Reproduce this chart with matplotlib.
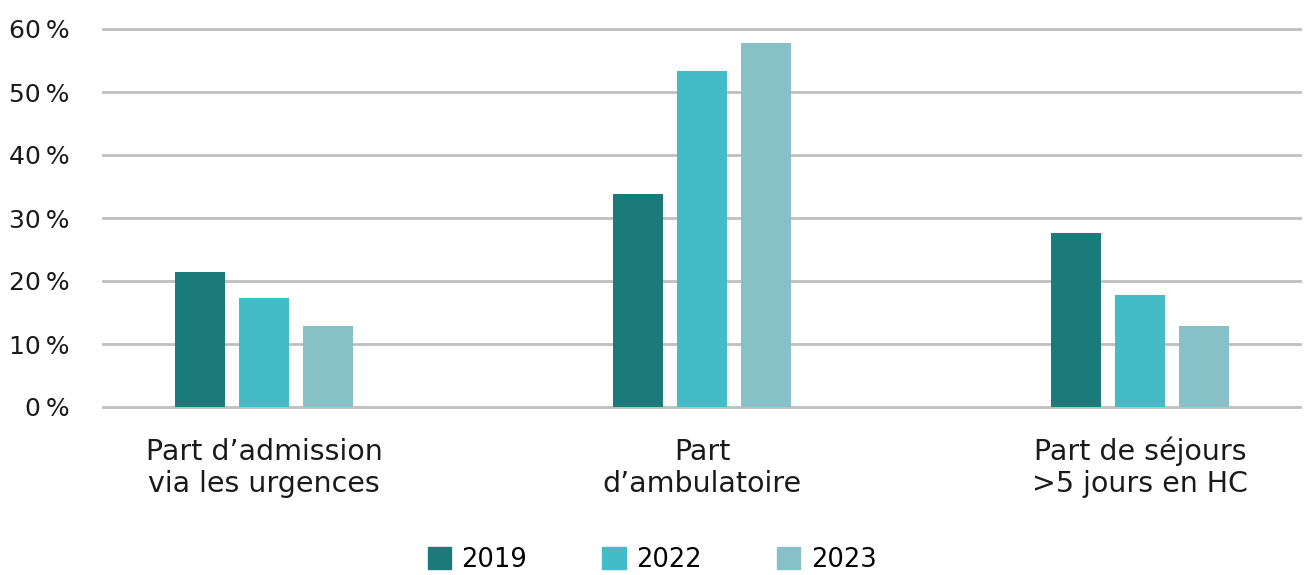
import matplotlib
matplotlib.use("Agg")
import matplotlib.pyplot as plt
import matplotlib.transforms as mtransforms
import numpy as np
from matplotlib.patches import Patch

categories = ["Part d\u2019admission\nvia les urgences", "Part\nd\u2019ambulatoire", "Part de séjours\n>5 jours en HC"]
series_names = ["2019", "2022", "2023"]
v2019 = [21.4, 33.8, 27.6]
v2022 = [17.3, 53.3, 17.8]
v2023 = [12.9, 57.8, 12.9]
values = [v2019, v2022, v2023]
colors = ["#1b7a7a", "#43bcc8", "#88c0c8"]
yticks = [0, 10, 20, 30, 40, 50, 60]

plt.rcParams['font.family'] = ['DejaVu Sans']

fig = plt.figure(figsize=(13.04, 5.75), dpi=100)
ax = fig.add_axes([103/1304, 1-407/575, (1300-103)/1304, (407-29)/575])

x = np.arange(len(categories))
w = 50/438
off = 64/438
for i, (vals, c) in enumerate(zip(values, colors)):
    ax.bar(x + (i-1)*off, vals, width=w, color=c, zorder=3)

ax.set_ylim(0, 60)
ax.set_xlim(-161/438, 2 + 160/438)
ax.set_yticks(yticks)
ax.set_yticklabels([f"{t}\u2009%" for t in yticks], fontsize=18, color="#1a1a1a")
ax.yaxis.grid(True, color="#bfbfbf", linewidth=2, zorder=0)
for gl in ax.get_ygridlines():
    gl.set_clip_on(False)
ax.tick_params(axis='y', length=0, pad=24)
ax.set_xticks(x)
ax.set_xticklabels([])
ax.tick_params(axis='x', length=0)
trans = mtransforms.blended_transform_factory(ax.transData, ax.transAxes)
for xi, lab in zip(x, categories):
    ax.text(xi, (407-492)/378, lab, transform=trans, ha='center', va='baseline',
            fontsize=20.5, color="#1a1a1a", linespacing=1.17, multialignment='center')
for s in ax.spines.values():
    s.set_visible(False)

handles = [Patch(color=c, label=n) for n, c in zip(series_names, colors)]
fig.legend(handles=handles, loc='center', bbox_to_anchor=(652/1304, 1-560/575), ncol=3,
           frameon=False, fontsize=18.5, handlelength=0.9, handleheight=0.9,
           handletextpad=0.4, columnspacing=2.95)

fig.savefig("out.png", dpi=100)
